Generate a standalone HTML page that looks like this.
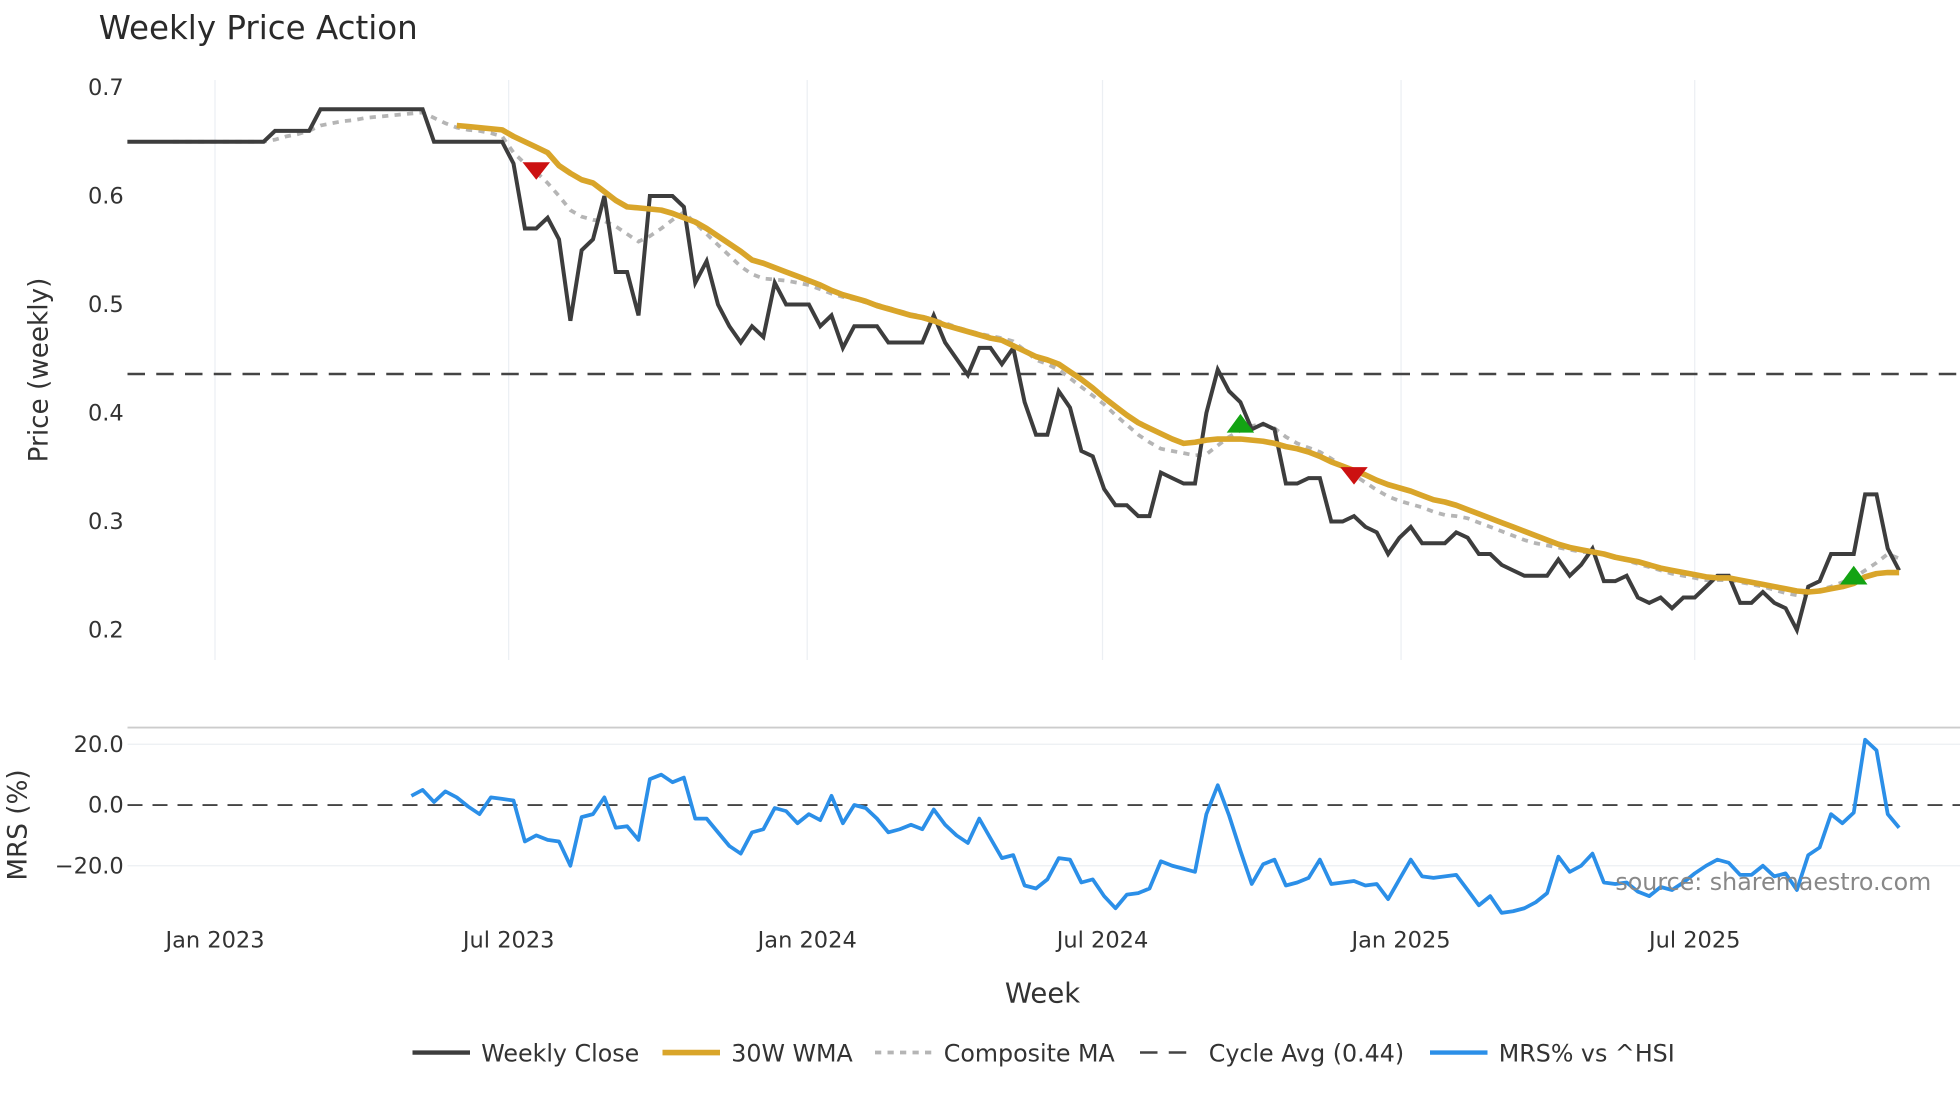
<!DOCTYPE html>
<html><head><meta charset="utf-8">
<style>
html,body{margin:0;padding:0;background:#fff;}
svg{display:block;font-family:"DejaVu Sans","Liberation Sans",sans-serif;}
</style></head>
<body>
<svg id="chart" width="1960" height="1102" viewBox="0 0 1568 881.6" xmlns="http://www.w3.org/2000/svg">
<text x="79" y="31" font-size="26" fill="#2a2a2a">Weekly Price Action</text>
<g id="grid"></g>
<g id="main"></g>
<g id="lower"></g>
<g id="axes"></g>
<text transform="translate(38,296) rotate(-90)" text-anchor="middle" font-size="21" fill="#333">Price (weekly)</text>
<text transform="translate(21,660) rotate(-90)" text-anchor="middle" font-size="21" fill="#333">MRS (%)</text>
<text x="834" y="802" text-anchor="middle" font-size="22" fill="#333">Week</text>
<text x="1545" y="712" text-anchor="end" font-size="19" fill="#888">source: sharemaestro.com</text>
<g id="legend"></g>
</svg>
<script>
const tickLabels = ["Jan 2023","Jul 2023","Jan 2024","Jul 2024","Jan 2025","Jul 2025"];
const tickDays = [54,235,419,601,785,966];
const priceTicks = [0.2,0.3,0.4,0.5,0.6,0.7];
const mrsTicks = [20,0,-20];
const cycleAvg = 0.436;
const closeVals = [0.65,0.65,0.65,0.65,0.65,0.65,0.65,0.65,0.65,0.65,0.65,0.65,0.65,0.66,0.66,0.66,0.66,0.68,0.68,0.68,0.68,0.68,0.68,0.68,0.68,0.68,0.68,0.65,0.65,0.65,0.65,0.65,0.65,0.65,
0.63,0.57,0.57,0.58,0.56,0.485,0.55,0.56,0.60,0.53,0.53,0.49,0.60,0.60,0.60,0.59,0.52,0.54,0.50,0.48,0.465,0.48,0.47,0.52,0.50,0.50,0.50,0.48,0.49,0.46,0.48,0.48,0.48,0.465,0.465,0.465,0.465,0.49,0.465,0.45,0.435,0.46,0.46,0.445,0.46,0.41,0.38,0.38,0.42,0.405,0.365,0.36,0.33,0.315,0.315,0.305,0.305,0.345,0.34,0.335,0.335,0.40,0.44,0.42,0.41,0.385,0.39,0.385,0.335,0.335,0.34,0.34,0.30,0.30,0.305,0.295,0.29,0.27,0.285,0.295,0.28,0.28,0.28,0.29,0.285,0.27,0.27,0.26,0.255,0.25,0.25,0.25,0.265,0.25,0.26,0.275,0.245,0.245,0.25,0.23,0.225,0.23,0.22,0.23,0.23,0.24,0.25,0.25,0.225,0.225,0.235,0.225,0.22,0.20,0.24,0.245,0.27,0.27,0.27,0.325,0.325,0.275,0.255];
const wmaStart = 29;
const wmaVals = [.665,.664,.663,.662,.661,.655,.65,.645,.64,.628,.621,.615,.612,.604,.596,.59,.589,.588,.587,.584,.58,.576,.57,.563,.556,.549,.541,.538,.534,.53,.526,.522,.518,.513,.509,.506,.503,.499,.496,.493,.49,.488,.485,.481,.478,.475,.472,.469,.467,.462,.457,.452,.449,.445,.438,.431,.423,.414,.406,.398,.391,.386,.381,.376,.372,.373,.375,.376,.376,.376,.375,.374,.372,.369,.367,.364,.36,.355,.351,.347,.343,.338,.334,.331,.328,.324,.32,.318,.315,.311,.307,.303,.299,.295,.291,.287,.283,.279,.276,.274,.272,.27,.267,.265,.263,.26,.257,.255,.253,.251,.249,.248,.248,.246,.244,.242,.24,.238,.236,.235,.236,.238,.24,.243,.249,.252,.253,.253];
const compStart = 4;
const compVals = [.65,.65,.65,.65,.65,.65,.65,.65,.65,.652,.655,.657,.66,.665,.667,.669,.67,.672,.673,.674,.675,.676,.677,.672,.667,.663,.661,.66,.658,.655,.64,.63,.622,.612,.6,.587,.581,.578,.577,.572,.565,.558,.563,.57,.578,.585,.575,.565,.555,.545,.535,.528,.524,.523,.522,.52,.518,.514,.51,.507,.505,.502,.5,.497,.494,.491,.489,.486,.483,.479,.476,.473,.471,.469,.466,.458,.449,.445,.44,.432,.424,.416,.408,.398,.389,.38,.373,.367,.365,.363,.361,.362,.37,.378,.384,.388,.39,.386,.378,.372,.368,.364,.358,.351,.343,.336,.329,.323,.319,.316,.313,.309,.306,.305,.303,.299,.295,.291,.287,.283,.28,.278,.276,.274,.272,.271,.27,.267,.264,.261,.258,.255,.252,.25,.248,.246,.246,.246,.244,.242,.24,.237,.234,.232,.234,.237,.24,.244,.248,.255,.262,.27,.266];
const mrsStart = 25;
const mrsVals = [3,5,1,4.5,2.5,-0.5,-3,2.5,2,1.5,-12,-10,-11.5,-12,-20,-4,-3,2.5,-7.5,-7,-11.5,8.5,10,7.5,9,-4.5,-4.5,-9,-13.5,-16,-9,-8,-1,-2,-6,-3,-5,3,-6,0,-1,-4.5,-9,-8,-6.5,-8,-1.5,-6.5,-10,-12.5,-4.5,-11,-17.5,-16.5,-26.5,-27.5,-24.5,-17.5,-18,-25.5,-24.5,-30,-34,-29.5,-29,-27.5,-18.5,-20,-21,-22,-3,6.5,-3.5,-15,-26,-19.5,-18,-26.5,-25.5,-24,-18,-26,-25.5,-25,-26.5,-26,-31,-24.5,-18,-23.5,-24,-23.5,-23,-28,-33,-30,-35.5,-35,-34,-32,-29,-17,-22,-20,-16,-25.5,-26,-25.5,-28.5,-30,-27,-28,-25.5,-22.5,-20,-18,-19,-23,-23,-20,-23.5,-22.5,-28,-16.5,-14,-3,-6,-2.5,21.5,18,-3,-7.5];
const sellIdx = [36,108];
const sellVals = [0.623,0.342];
const buyIdx = [98,152];
const buyVals = [0.39,0.25];

const NS="http://www.w3.org/2000/svg";
function mk(tag,attrs,parent){const e=document.createElementNS(NS,tag);for(const k in attrs)e.setAttribute(k,attrs[k]);parent.appendChild(e);return e;}
const xDay=d=>172+(d-54)*1.298;
const xIdx=i=>xDay(i*7);
const yP=p=>70+(0.7-p)*868;
const yM=v=>644-v*2.43;
const grid=document.getElementById('grid'),main=document.getElementById('main'),lower=document.getElementById('lower'),axes=document.getElementById('axes'),legend=document.getElementById('legend');

tickDays.forEach((d,k)=>{
  const g=mk('line',{x1:xDay(d),x2:xDay(d),y1:64,y2:528,stroke:'#eceff3','stroke-width':1},grid);
  
  
  const t=mk('text',{x:xDay(d),y:758,'text-anchor':'middle','font-size':18,fill:'#333'},axes);
  t.textContent=tickLabels[k];
  
  
});
priceTicks.forEach(p=>{
  const t=mk('text',{x:99,y:yP(p)+6,'text-anchor':'end','font-size':18,fill:'#333'},axes);
  t.textContent=p.toFixed(1);
  
  
});
const border=mk('line',{x1:102,x2:1568,y1:582,y2:582,stroke:'#cccccc','stroke-width':1.5},lower);


mrsTicks.forEach(v=>{
  if(v!==0){const l=mk('line',{x1:102,x2:1568,y1:yM(v),y2:yM(v),stroke:'#eceff3','stroke-width':1},lower);
  
  }
  const t=mk('text',{x:99,y:yM(v)+6,'text-anchor':'end','font-size':18,fill:'#333'},axes);
  t.textContent=(v<0?'\u221220.0':v.toFixed(1));
  
  
});
const zl=mk('line',{x1:102,x2:1568,y1:yM(0),y2:yM(0),stroke:'#444','stroke-width':1.5,'stroke-dasharray':'12 8'},lower);


const mp=mrsVals.map((v,k)=>xIdx(mrsStart+k).toFixed(1)+','+yM(v).toFixed(1)).join(' ');
const ml=mk('polyline',{points:mp,fill:'none',stroke:'#2b8fe8','stroke-width':3,'stroke-linejoin':'round'},lower);



const ca=mk('line',{x1:102,x2:1568,y1:yP(cycleAvg),y2:yP(cycleAvg),stroke:'#444','stroke-width':2,'stroke-dasharray':'14 9'},main);


const cp=compVals.map((v,k)=>xIdx(compStart+k).toFixed(1)+','+yP(v).toFixed(1)).join(' ');
const cl=mk('polyline',{points:cp,fill:'none',stroke:'#b5b5b5','stroke-width':3,'stroke-dasharray':'5 5'},main);


const clp=closeVals.map((v,k)=>xIdx(k).toFixed(1)+','+yP(v).toFixed(1)).join(' ');
const cll=mk('polyline',{points:clp,fill:'none',stroke:'#3d3d3d','stroke-width':3.2,'stroke-linejoin':'miter'},main);


const wp=wmaVals.map((v,k)=>xIdx(wmaStart+k).toFixed(1)+','+yP(v).toFixed(1)).join(' ');
const wl=mk('polyline',{points:wp,fill:'none',stroke:'#d9a52a','stroke-width':4.5,'stroke-linejoin':'round'},main);


sellIdx.forEach((i,k)=>{const x=xIdx(i),y=yP(sellVals[k]);
  const m=mk('polygon',{points:`${x-11},${y-7} ${x+11},${y-7} ${x},${y+7}`,fill:'#cc1111'},main);
  
  });
buyIdx.forEach((i,k)=>{const x=xIdx(i),y=yP(buyVals[k]);
  const m=mk('polygon',{points:`${x-11},${y+7} ${x+11},${y+7} ${x},${y-8}`,fill:'#13a313'},main);
  
  });

const items=[
 {x:330,label:'Weekly Close',stroke:'#3d3d3d',dash:'',w:3.5,name:'legend-weekly-close'},
 {x:530,label:'30W WMA',stroke:'#d9a52a',dash:'',w:4.5,name:'legend-wma'},
 {x:700,label:'Composite MA',stroke:'#b5b5b5',dash:'5 5',w:3,name:'legend-composite-ma'},
 {x:912,label:'Cycle Avg (0.44)',stroke:'#444',dash:'14 9',w:2,name:'legend-cycle-avg'},
 {x:1144,label:'MRS% vs ^HSI',stroke:'#2b8fe8',dash:'',w:3.5,name:'legend-mrs'}];
items.forEach(it=>{
  const l=mk('line',{x1:it.x,x2:it.x+46,y1:842,y2:842,stroke:it.stroke,'stroke-width':it.w,'stroke-dasharray':it.dash},legend);
  
  
  const t=mk('text',{x:it.x+55,y:849,'font-size':19,fill:'#333'},legend);
  t.textContent=it.label;
  
  
});
</script>
</body></html>
